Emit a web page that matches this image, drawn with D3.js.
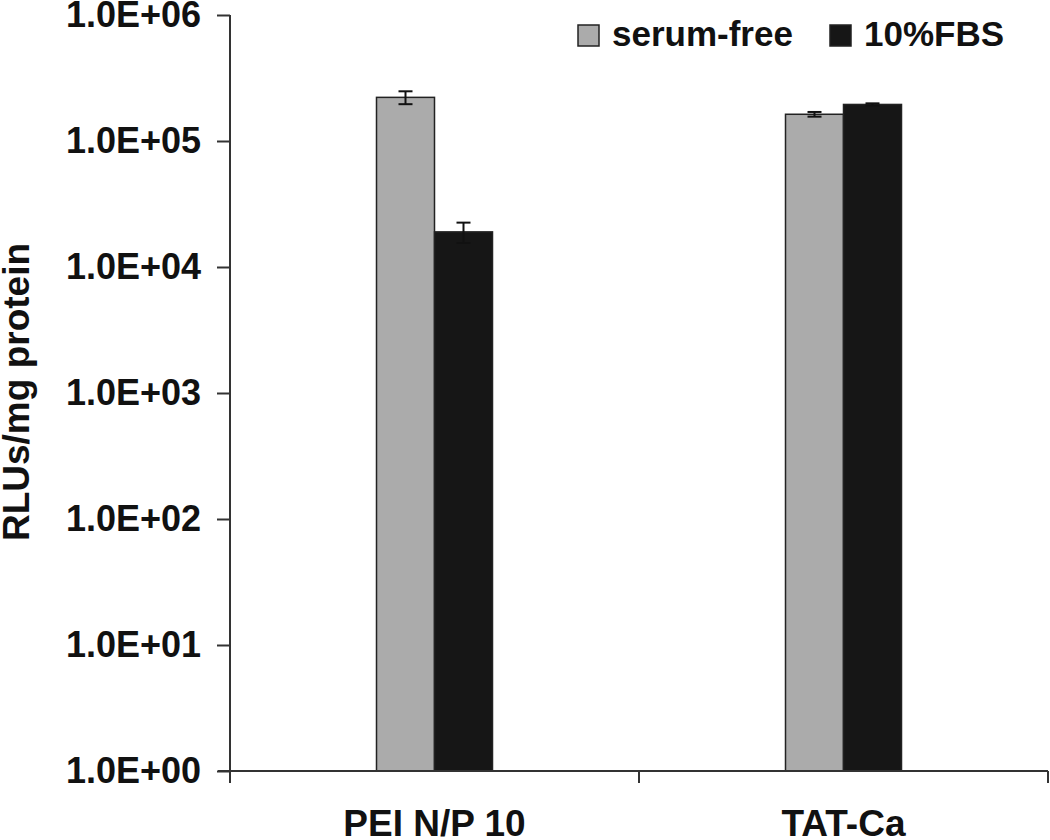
<!DOCTYPE html>
<html lang="en">
<head>
<meta charset="UTF-8">
<title>RLUs/mg protein</title>
<script src="https://d3js.org/d3.v7.min.js"></script>
<style>
html, body { margin: 0; padding: 0; background: white; }
body { font-family: 'Liberation Sans', Arial, sans-serif; }
.lbl { font-family: 'Liberation Sans', Arial, sans-serif; font-weight: bold; fill: #111; }
</style>
</head>
<body>
<div id="chart"></div>
<script>

// ---- data ----
const categories = ["PEI N/P 10", "TAT-Ca"];
const series = ["serum-free", "10%FBS"];
const serumFree = [2.22e5, 1.63e5];
const serumFreeErr = [2.6e4, 7e3];
const fbs = [1.9e4, 1.95e5];
const fbsErr = [3.5e3, 4e3];
const yTicks = [1, 10, 100, 1e3, 1e4, 1e5, 1e6];
const colors = ["#ababab", "#161616"];

const totalWidth = 1050, totalHeight = 840;
const svg = d3.select("#chart").append("svg")
  .attr("width", totalWidth)
  .attr("height", totalHeight);

// ---- scales ----
const y = d3.scaleLog().domain([1, 1e6]).range([771, 15]);
const x = d3.scaleBand().domain(categories).range([230, 1048]);
const groupW = 116;
const x1 = d3.scaleBand().domain(series).range([0, groupW]);

const rows = [];
categories.forEach((c, i) => {
  rows.push({cat: c, s: series[0], v: serumFree[i], e: serumFreeErr[i]});
  rows.push({cat: c, s: series[1], v: fbs[i], e: fbsErr[i]});
});
const barX = d => x(d.cat) + x.bandwidth() / 2 - groupW / 2 + x1(d.s);

// ---- bars ----
svg.append("g").selectAll("rect")
  .data(rows)
  .join("rect")
  .attr("x", barX)
  .attr("y", d => y(d.v))
  .attr("width", x1.bandwidth())
  .attr("height", d => y(1) - y(d.v))
  .attr("fill", d => colors[series.indexOf(d.s)])
  .attr("stroke", "#222")
  .attr("stroke-width", 1.5);

// ---- error bars ----
const eb = svg.append("g").attr("stroke", "#111").attr("stroke-width", 2);
rows.forEach(d => {
  const cx = barX(d) + x1.bandwidth() / 2;
  eb.append("line").attr("x1", cx).attr("x2", cx).attr("y1", y(d.v - d.e)).attr("y2", y(d.v + d.e));
  eb.append("line").attr("x1", cx - 7).attr("x2", cx + 7).attr("y1", y(d.v + d.e)).attr("y2", y(d.v + d.e));
  eb.append("line").attr("x1", cx - 7).attr("x2", cx + 7).attr("y1", y(d.v - d.e)).attr("y2", y(d.v - d.e));
});

// ---- y axis ----
const yAxis = svg.append("g")
  .attr("transform", "translate(230,0)")
  .call(d3.axisLeft(y).tickValues(yTicks).tickSize(13).tickPadding(16)
    .tickFormat(d => "1.0E+" + String(Math.round(Math.log10(d))).padStart(2, "0")));
yAxis.select(".domain").attr("d", "M0,15V783").attr("stroke", "#333").attr("stroke-width", 2);
yAxis.selectAll(".tick line").attr("stroke", "#333").attr("stroke-width", 2);
yAxis.selectAll(".tick text").attr("class", "lbl").style("font-size", "36px");

// ---- x axis ----
const xAxis = svg.append("g").attr("transform", "translate(0,771)");
xAxis.append("line").attr("x1", 218).attr("x2", 1048).attr("stroke", "#333").attr("stroke-width", 2);
xAxis.selectAll(".xt")
  .data([x.range()[0]].concat(categories.map(c => x(c) + x.bandwidth())))
  .join("line")
  .attr("x1", d => d).attr("x2", d => d)
  .attr("y1", 0).attr("y2", 12)
  .attr("stroke", "#333").attr("stroke-width", 2);
xAxis.selectAll(".xl")
  .data(categories)
  .join("text")
  .attr("class", "lbl")
  .attr("x", c => x(c) + x.bandwidth() / 2)
  .attr("y", 65)
  .attr("text-anchor", "middle")
  .style("font-size", "37px")
  .text(c => c);

// ---- y title ----
svg.append("text")
  .attr("class", "lbl")
  .attr("transform", "translate(29,392) rotate(-90)")
  .attr("text-anchor", "middle")
  .style("font-size", "37px")
  .text("RLUs/mg protein");

// ---- legend ----
const legend = svg.append("g");
const legX = [578, 830];
series.forEach((s, i) => {
  legend.append("rect")
    .attr("x", legX[i]).attr("y", 25)
    .attr("width", 21).attr("height", 21)
    .attr("fill", colors[i]).attr("stroke", "#222").attr("stroke-width", 1.5);
  legend.append("text")
    .attr("class", "lbl")
    .attr("x", legX[i] + 34).attr("y", 46)
    .style("font-size", "35px")
    .text(s);
});

</script>
</body>
</html>
